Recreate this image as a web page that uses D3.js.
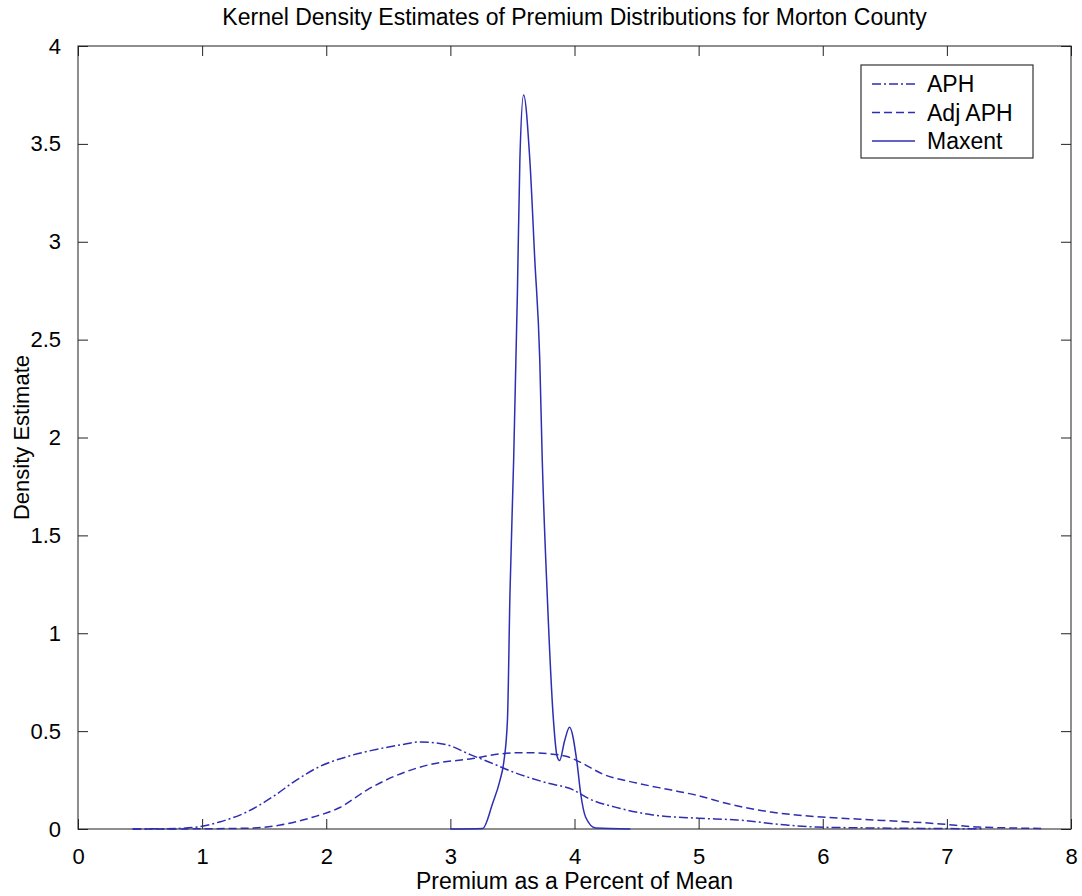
<!DOCTYPE html>
<html>
<head>
<meta charset="utf-8">
<script src="https://d3js.org/d3.v7.min.js"></script>
<style>
  html, body { margin: 0; padding: 0; background: #fff; }
  svg { display: block; }
  text { font-family: "Liberation Sans", Arial, Helvetica, sans-serif; fill: #000; }
</style>
</head>
<body>
<svg id="chart" width="1082" height="896"></svg>
<script>
// ---- data ----
const titleText = "Kernel Density Estimates of Premium Distributions for Morton County";
const xLabelText = "Premium as a Percent of Mean";
const yLabelText = "Density Estimate";
const xTicks = [0, 1, 2, 3, 4, 5, 6, 7, 8];
const yTicks = [0, 0.5, 1, 1.5, 2, 2.5, 3, 3.5, 4];
const seriesNames = ["APH", "Adj APH", "Maxent"];

const aphX = [0.44, 0.8, 0.96, 1.14, 1.36, 1.57, 1.76, 1.95, 2.17, 2.43, 2.6, 2.76, 2.97, 3.16, 3.32, 3.51, 3.78, 3.99, 4.10, 4.37, 4.63, 5.0, 5.31, 5.71, 5.95, 6.3, 6.8, 7.3];
const aphY = [0, 0.003, 0.01, 0.036, 0.087, 0.165, 0.25, 0.32, 0.37, 0.41, 0.43, 0.445, 0.43, 0.38, 0.34, 0.29, 0.235, 0.20, 0.16, 0.105, 0.072, 0.055, 0.046, 0.02, 0.01, 0.006, 0.003, 0.001];

const adjX = [0.44, 1.0, 1.41, 1.63, 1.89, 2.11, 2.33, 2.57, 2.84, 3.18, 3.42, 3.6, 3.78, 3.94, 4.05, 4.23, 4.5, 4.77, 5.0, 5.23, 5.58, 5.95, 6.3, 6.95, 7.26, 7.78];
const adjY = [0, 0.001, 0.005, 0.02, 0.06, 0.11, 0.20, 0.275, 0.33, 0.36, 0.385, 0.39, 0.385, 0.37, 0.34, 0.28, 0.235, 0.20, 0.17, 0.13, 0.087, 0.063, 0.05, 0.026, 0.01, 0.003];

const maxX = [3.0, 3.26, 3.34, 3.40, 3.43, 3.46, 3.48, 3.51, 3.54, 3.56, 3.59, 3.64, 3.68, 3.72, 3.74, 3.78, 3.83, 3.86, 3.88, 3.92, 3.96, 4.02, 4.05, 4.09, 4.17, 4.45];
const maxY = [0, 0.003, 0.13, 0.25, 0.34, 0.56, 1.2, 1.89, 2.74, 3.42, 3.75, 3.42, 2.91, 2.40, 1.89, 1.2, 0.56, 0.37, 0.35, 0.45, 0.52, 0.34, 0.18, 0.06, 0.005, 0];

// ---- layout ----
const pLeft = 78, pRight = 1071, pTop = 46, pBottom = 829;
const lineColor = "#2e2eb2";
const dashes = ["9,3,2,3", "8,4", null];

const svg = d3.select("#chart");
const x = d3.scaleLinear().domain([0, 8]).range([pLeft, pRight]);
const y = d3.scaleLinear().domain([0, 4]).range([pBottom, pTop]);

// frame
svg.append("rect")
  .attr("x", pLeft).attr("y", pTop)
  .attr("width", pRight - pLeft).attr("height", pBottom - pTop)
  .attr("fill", "none").attr("stroke", "#444").attr("stroke-width", 1.2);

const tickLen = 10;
const fmt = d => d3.format("")(d);

// bottom axis (ticks inward)
const gx = svg.append("g").attr("transform", `translate(0,${pBottom})`)
  .call(d3.axisBottom(x).tickValues(xTicks).tickSizeInner(-tickLen).tickSizeOuter(0).tickPadding(18).tickFormat(fmt));
gx.select(".domain").remove();
// top axis ticks
const gxt = svg.append("g").attr("transform", `translate(0,${pTop})`)
  .call(d3.axisTop(x).tickValues(xTicks).tickSizeInner(-tickLen).tickSizeOuter(0).tickFormat(""));
gxt.select(".domain").remove();
// left axis
const gy = svg.append("g").attr("transform", `translate(${pLeft},0)`)
  .call(d3.axisLeft(y).tickValues(yTicks).tickSizeInner(-tickLen).tickSizeOuter(0).tickPadding(17).tickFormat(fmt));
gy.select(".domain").remove();
// right axis ticks
const gyr = svg.append("g").attr("transform", `translate(${pRight},0)`)
  .call(d3.axisRight(y).tickValues(yTicks).tickSizeInner(-tickLen).tickSizeOuter(0).tickFormat(""));
gyr.select(".domain").remove();

svg.selectAll(".tick line").attr("stroke", "#222").attr("stroke-width", 1);
svg.selectAll(".tick text").attr("font-size", 22).attr("font-family", "Liberation Sans, Arial, sans-serif").attr("fill", "#000");
gx.selectAll(".tick text").attr("dy", "0.75em");

// curves
const series = [
  { name: seriesNames[0], xs: aphX, ys: aphY, dash: dashes[0] },
  { name: seriesNames[1], xs: adjX, ys: adjY, dash: dashes[1] },
  { name: seriesNames[2], xs: maxX, ys: maxY, dash: dashes[2] }
];
const line = d3.line().x(d => x(d[0])).y(d => y(d[1])).curve(d3.curveMonotoneX);
series.forEach(s => {
  const pts = s.xs.map((v, i) => [v, s.ys[i]]);
  svg.append("path")
    .datum(pts)
    .attr("d", line)
    .attr("fill", "none")
    .attr("stroke", lineColor)
    .attr("stroke-width", 1.5)
    .attr("stroke-dasharray", s.dash);
});

// title and axis labels
svg.append("text")
  .attr("x", (pLeft + pRight) / 2).attr("y", 25)
  .attr("text-anchor", "middle").attr("font-size", 23)
  .text(titleText);
svg.append("text")
  .attr("x", (pLeft + pRight) / 2).attr("y", 889)
  .attr("text-anchor", "middle").attr("font-size", 23)
  .text(xLabelText);
svg.append("text")
  .attr("transform", `translate(29,${(pTop + pBottom) / 2}) rotate(-90)`)
  .attr("text-anchor", "middle").attr("font-size", 22)
  .text(yLabelText);

// legend
const lg = svg.append("g");
lg.append("rect").attr("x", 861).attr("y", 65).attr("width", 172).attr("height", 93)
  .attr("fill", "#fff").attr("stroke", "#333").attr("stroke-width", 1.2);
series.forEach((s, i) => {
  const cy = 84 + i * 28.5;
  lg.append("line").attr("x1", 872).attr("x2", 915).attr("y1", cy).attr("y2", cy)
    .attr("stroke", lineColor).attr("stroke-width", 1.5).attr("stroke-dasharray", s.dash);
  lg.append("text").attr("x", 927).attr("y", cy).attr("dy", "0.36em")
    .attr("font-size", 23).text(s.name);
});
</script>
</body>
</html>
